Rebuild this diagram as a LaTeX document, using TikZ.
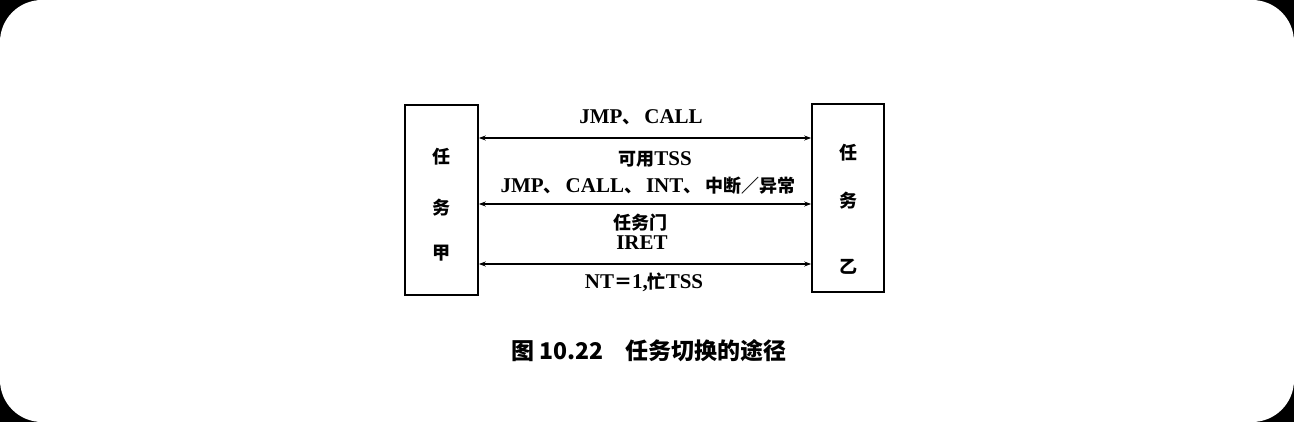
\documentclass[tikz,border=0pt]{standalone}
\usepackage{fontspec}
\setmainfont{Liberation Serif}
\newfontfamily\cjk{Noto Sans CJK SC}
\newcommand{\zh}[1]{{\cjk\fontsize{18}{18}\selectfont\bfseries #1}}
\newcommand{\dun}{\zh{、}\hspace{4pt}}
\usetikzlibrary{arrows.meta}
\tikzset{
  taskbox/.style={draw, line width=1.6pt, inner sep=0pt},
  cjkchar/.style={font=\cjk\fontsize{18}{18}\selectfont\bfseries},
  lbl/.style={font=\fontsize{21}{21}\selectfont\bfseries, inner sep=0pt, anchor=base},
  link/.style={line width=1.6pt, {Stealth[length=7pt,width=5pt]}-{Stealth[length=7pt,width=5pt]}},
}
\begin{document}
\begin{tikzpicture}[x=1pt,y=-1pt]
\fill[black] (0,0) rectangle (1294,422);
\fill[white, rounded corners=42pt] (0,0) rectangle (1294,422);
\useasboundingbox (0,0) rectangle (1294,422);
% boxes
\node[taskbox, minimum width=73pt, minimum height=190pt] (A) at (441.5,200) {};
\node[taskbox, minimum width=72pt, minimum height=188pt] (B) at (848,198) {};
\node[cjkchar] (a1) at (441,157) {任};
\node[cjkchar] (a2) at (441,208) {务};
\node[cjkchar] (a3) at (441,253) {甲};
\node[cjkchar] (b1) at (848,153) {任};
\node[cjkchar] (b2) at (848,201) {务};
\node[cjkchar] (b3) at (848,267) {乙};
% connectors
\draw[link] (A.east |- {0,138}) -- (B.west |- {0,138});
\draw[link] (A.east |- {0,204}) -- (B.west |- {0,204});
\draw[link] (A.east |- {0,264}) -- (B.west |- {0,264});
% labels
\node[lbl] (l1) at (641,124) {JMP\dun CALL};
\node[lbl] (l2) at (655,166) {\zh{可用}TSS};
\node[lbl] (l3) at (648,193) {JMP\dun CALL\dun INT\dun\zh{中断／异常}};
\node[lbl] (l4) at (640,230) {\zh{任务门}};
\node[lbl] (l5) at (642,250) {IRET};
\node[lbl] (l6) at (644,289) {NT\zh{＝}1,\zh{忙}TSS};
% caption
\node[font=\cjk\fontsize{23}{23}\selectfont\bfseries, inner sep=0pt, anchor=base] (cap) at (649,359) {图 10.22\hspace{22pt}任务切换的途径};
\end{tikzpicture}
\end{document}
